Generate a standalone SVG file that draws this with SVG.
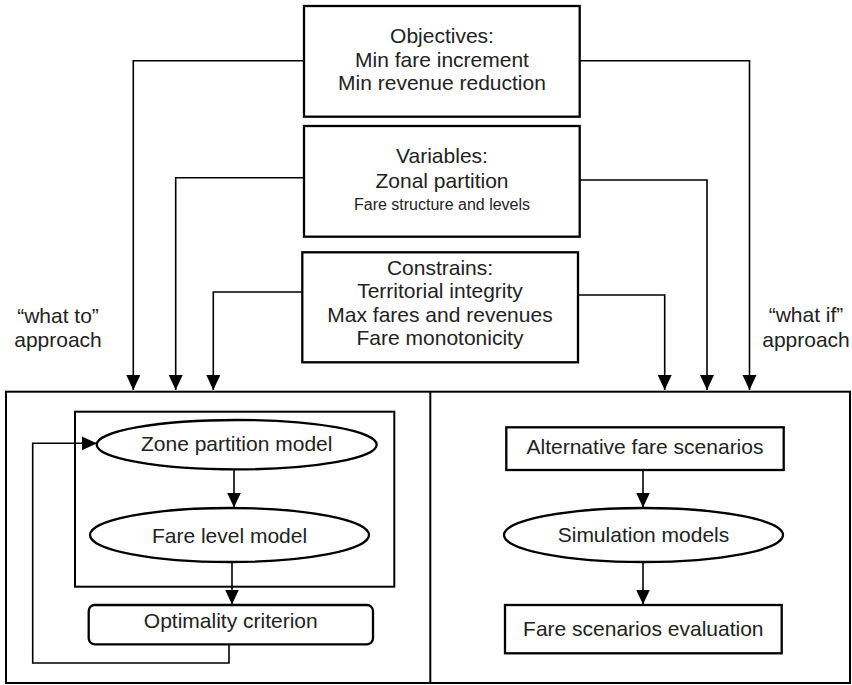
<svg xmlns="http://www.w3.org/2000/svg" width="852" height="685" viewBox="0 0 852 685">
<defs>
<marker id="ah" markerUnits="userSpaceOnUse" markerWidth="14" markerHeight="16" refX="15" refY="7" orient="auto">
<path d="M0,0 L15,7 L0,14 Z" fill="#000"/>
</marker>
<style>
.box{fill:#fff;stroke:#000;stroke-width:2.3}
.frame{fill:none;stroke:#000;stroke-width:2}
.con{fill:none;stroke:#000;stroke-width:1.6}
.arr{fill:none;stroke:#000;stroke-width:1.6;marker-end:url(#ah)}
text{font-family:"Liberation Sans",Arial,sans-serif;font-size:21px;fill:#222;text-anchor:middle}
.sm{font-size:16px}
</style>
</defs>
<rect width="852" height="685" fill="#fff"/>

<g id="frame">
<rect class="frame" x="6" y="391.7" width="844" height="291.3"/>
<line class="frame" x1="430.3" y1="391.7" x2="430.3" y2="683"/>
<rect class="frame" x="75" y="411.7" width="319.3" height="175"/>
</g>

<g id="connectors">
<polyline class="arr" points="304,60.7 133.3,60.7 133.3,390"/>
<polyline class="arr" points="580,60.7 749.5,60.7 749.5,390"/>
<polyline class="arr" points="304,177.7 175.7,177.7 175.7,390"/>
<polyline class="arr" points="580,180 707,180 707,390"/>
<polyline class="arr" points="302.3,292 213.3,292 213.3,390"/>
<polyline class="arr" points="578,295 664.7,295 664.7,390"/>
<line class="arr" x1="234" y1="469.4" x2="234" y2="507.5"/>
<line class="arr" x1="232" y1="562" x2="232" y2="604.5"/>
<polyline class="arr" points="229,644.3 229,663 32.7,663 32.7,443.3 96.7,443.3"/>
<line class="arr" x1="643" y1="470" x2="643" y2="507.5"/>
<line class="arr" x1="643" y1="562" x2="643" y2="604.5"/>
</g>

<g id="objectives">
<rect class="box" x="304" y="6" width="275.7" height="110.7"/>
<text x="442" y="43">Objectives:</text>
<text x="442" y="66.5">Min fare increment</text>
<text x="442" y="90">Min revenue reduction</text>
</g>

<g id="variables">
<rect class="box" x="304" y="126" width="275.7" height="110.7"/>
<text x="442" y="163">Variables:</text>
<text x="442" y="188">Zonal partition</text>
<text class="sm" x="442" y="210">Fare structure and levels</text>
</g>

<g id="constraints">
<rect class="box" x="302.3" y="252.3" width="275.7" height="110"/>
<text x="440" y="275">Constrains:</text>
<text x="440" y="298.3">Territorial integrity</text>
<text x="440" y="321.7">Max fares and revenues</text>
<text x="440" y="345">Fare monotonicity</text>
</g>

<g id="what-to">
<text x="58" y="323">“what to”</text>
<text x="58" y="347">approach</text>
</g>

<g id="what-if">
<text x="806" y="322">“what if”</text>
<text x="806" y="347">approach</text>
</g>

<g id="zone-partition">
<ellipse class="box" cx="236.7" cy="444.7" rx="140" ry="24.7"/>
<text x="236.7" y="451">Zone partition model</text>
</g>

<g id="fare-level">
<ellipse class="box" cx="229.5" cy="535" rx="139.5" ry="27"/>
<text x="229.5" y="543">Fare level model</text>
</g>

<g id="optimality">
<rect class="box" x="88.7" y="605" width="284.3" height="39.3" rx="6"/>
<text x="230.8" y="628">Optimality criterion</text>
</g>

<g id="alternative">
<rect class="box" x="506.3" y="427.3" width="277.4" height="42.7"/>
<text x="645" y="453.5">Alternative fare scenarios</text>
</g>

<g id="simulation">
<ellipse class="box" cx="643.5" cy="535" rx="139.5" ry="27"/>
<text x="643.5" y="542">Simulation models</text>
</g>

<g id="evaluation">
<rect class="box" x="505" y="605" width="276.7" height="48.3"/>
<text x="643.3" y="636">Fare scenarios evaluation</text>
</g>
</svg>
